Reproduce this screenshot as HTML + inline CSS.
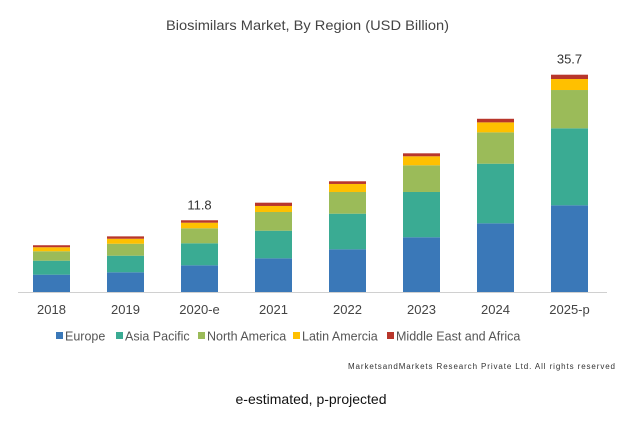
<!DOCTYPE html>
<html><head><meta charset="utf-8"><style>
body{margin:0;background:#fff;}
svg text{font-family:"Liberation Sans",sans-serif;}
</style></head><body>
<svg width="629" height="418" viewBox="0 0 629 418">
<text x="166" y="30" font-size="14" fill="#444" textLength="283" lengthAdjust="spacingAndGlyphs">Biosimilars Market, By Region (USD Billion)</text>
<g id="bars"></g>
<line x1="18" y1="292.5" x2="607" y2="292.5" stroke="#d0d0d0" stroke-width="1"/>
<g id="xlabels"></g>
<g id="legend"></g>
<text x="348" y="369" font-size="8" fill="#333" textLength="267" lengthAdjust="spacing">MarketsandMarkets  Research  Private  Ltd. All rights reserved</text>
<text x="311" y="404" text-anchor="middle" font-size="14" fill="#111">e-estimated, p-projected</text>
</svg>
<script>
const categories=["2018","2019","2020-e","2021","2022","2023","2024","2025-p"];
const seriesNames=["Europe","Asia Pacific","North America","Latin Amercia","Middle East and Africa"];
const europe=[2.85,3.24,4.39,5.54,7.02,9.0,11.3,14.26];
const asiaPacific=[2.3,2.73,3.62,4.54,5.86,7.45,9.8,12.66];
const northAmerica=[1.55,1.97,2.47,3.08,3.57,4.39,5.16,6.3];
const latinAmerica=[0.66,0.82,0.92,0.99,1.32,1.48,1.64,1.81];
const middleEast=[0.33,0.39,0.4,0.54,0.44,0.49,0.59,0.71];
const totalLabels=[null,null,"11.8",null,null,null,null,"35.7"];
const colors=["#3a78b8","#3aab93","#9bbb59","#ffc000","#b8362b"];
const series=[europe,asiaPacific,northAmerica,latinAmerica,middleEast];
const NS="http://www.w3.org/2000/svg";
const base=292,scale=6.08,x0=14.5,band=74,bw=37;
function y(v){return base-v*scale;}
function xc(i){return x0+band*(i+0.5);}
const gb=document.getElementById('bars'),gx=document.getElementById('xlabels'),gl=document.getElementById('legend');
categories.forEach((c,i)=>{
  let acc=0;
  series.forEach((s,k)=>{
    const r=document.createElementNS(NS,'rect');
    r.setAttribute('x',xc(i)-bw/2);r.setAttribute('width',bw);
    r.setAttribute('y',y(acc+s[i]));r.setAttribute('height',s[i]*scale);
    r.setAttribute('fill',colors[k]);
    
    
    gb.appendChild(r);acc+=s[i];
  });
  if(totalLabels[i]){
    const t=document.createElementNS(NS,'text');
    t.setAttribute('x',xc(i));t.setAttribute('y',y(acc)-11);t.setAttribute('text-anchor','middle');
    t.setAttribute('font-size','13');t.setAttribute('fill','#333');t.textContent=totalLabels[i];
    
    
    gb.appendChild(t);
  }
  const t=document.createElementNS(NS,'text');
  t.setAttribute('x',xc(i));t.setAttribute('y',314);t.setAttribute('text-anchor','middle');
  t.setAttribute('font-size','13');t.setAttribute('fill','#444');t.textContent=c;
  
  
  gx.appendChild(t);
});
const legX=[56,116,198,293,387];
seriesNames.forEach((n,k)=>{
  const r=document.createElementNS(NS,'rect');
  r.setAttribute('x',legX[k]);r.setAttribute('y',332);r.setAttribute('width',7);r.setAttribute('height',7);
  r.setAttribute('fill',colors[k]);
  
  
  gl.appendChild(r);
  const t=document.createElementNS(NS,'text');
  t.setAttribute('x',legX[k]+9);t.setAttribute('y',340.5);t.setAttribute('font-size','12.5');t.setAttribute('fill','#555');
  t.textContent=n;
  
  
  gl.appendChild(t);
});
</script>
</body></html>
